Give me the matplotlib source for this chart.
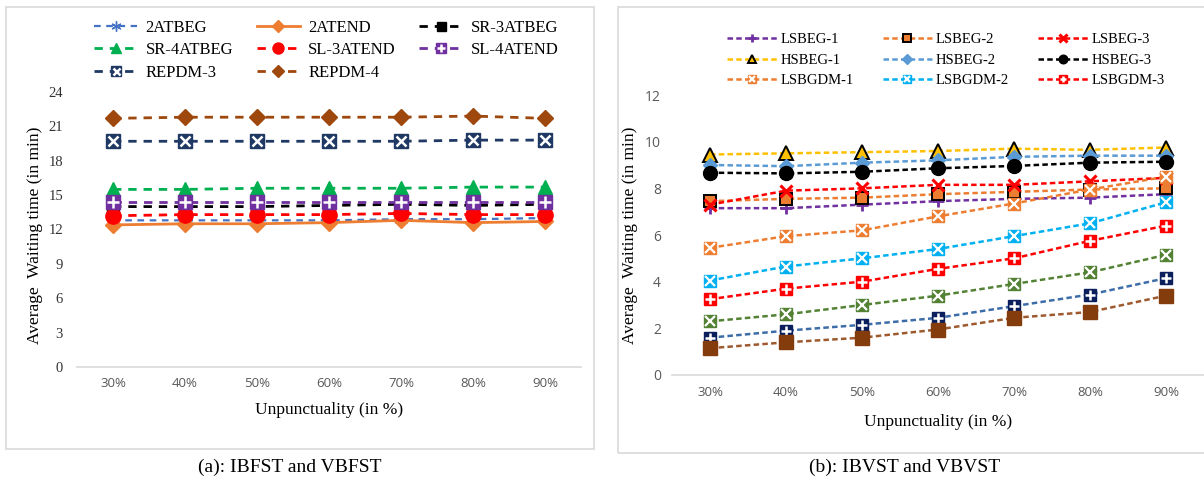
import numpy as np
import matplotlib
matplotlib.use("Agg")
import matplotlib.pyplot as plt
from matplotlib.patches import Rectangle

# ---- data ----
levels = ["30%", "40%", "50%", "60%", "70%", "80%", "90%"]

# (a) IBFST and VBFST
a_2atbeg = [12.8, 12.8, 12.8, 12.8, 12.9, 12.9, 13.0]
a_2atend = [12.4, 12.5, 12.5, 12.6, 12.8, 12.6, 12.7]
a_sr3atbeg = [14.0, 14.0, 14.0, 14.1, 14.2, 14.1, 14.2]
a_sr4atbeg = [15.5, 15.5, 15.6, 15.6, 15.6, 15.7, 15.7]
a_sl3atend = [13.2, 13.3, 13.3, 13.3, 13.4, 13.3, 13.3]
a_sl4atend = [14.4, 14.4, 14.4, 14.4, 14.4, 14.4, 14.4]
a_repdm3 = [19.7, 19.7, 19.7, 19.7, 19.7, 19.8, 19.8]
a_repdm4 = [21.7, 21.8, 21.8, 21.8, 21.8, 21.9, 21.7]

# (b) IBVST and VBVST
b_lsbeg1 = [7.15, 7.15, 7.3, 7.45, 7.55, 7.6, 7.75]
b_lsbeg2 = [7.45, 7.55, 7.6, 7.75, 7.85, 7.95, 8.0]
b_lsbeg3 = [7.3, 7.9, 8.0, 8.15, 8.15, 8.3, 8.45]
b_hsbeg1 = [9.45, 9.5, 9.55, 9.6, 9.7, 9.65, 9.75]
b_hsbeg2 = [9.0, 8.95, 9.1, 9.2, 9.35, 9.4, 9.4]
b_hsbeg3 = [8.67, 8.64, 8.71, 8.86, 8.96, 9.1, 9.14]
b_lsbgdm1 = [5.45, 5.95, 6.2, 6.8, 7.35, 7.95, 8.5]
b_lsbgdm2 = [4.05, 4.65, 5.0, 5.4, 5.95, 6.5, 7.4]
b_lsbgdm3 = [3.25, 3.7, 4.0, 4.55, 5.0, 5.75, 6.4]
# three more series drawn without a legend entry
b_extra1 = [2.3, 2.6, 3.0, 3.4, 3.9, 4.4, 5.15]
b_extra2 = [1.6, 1.9, 2.15, 2.45, 2.95, 3.45, 4.15]
b_extra3 = [1.15, 1.4, 1.6, 1.95, 2.45, 2.7, 3.4]

SERIF = "Liberation Serif"
SANS = "Open Sans"
AXCOL = "#d9d9d9"
TICKCOL = "#595959"


def draw(ax, x, y, color, marker, label, ls, dashes=None, lw=2.0, ms=9,
         mec=None, glyph=None, glyph_ms=None, glyph_mew=1.6, lcolor=None):
    kw = dict(color=lcolor or color, lw=lw, marker=marker, ms=ms,
              mfc=color, mec=mec or color, mew=1.0, label=label)
    if dashes is not None:
        kw["dashes"] = dashes
    else:
        kw["ls"] = ls
    line, = ax.plot(x, y, **kw)
    if glyph is None:
        return line
    over, = ax.plot(x, y, ls="none", marker=glyph, ms=glyph_ms or ms * 0.7,
                    mec="white", mew=glyph_mew)
    return (line, over)


def style_axes(ax, ymax, step, yfont, xpad, xlabelpad, ypad):
    ax.set_ylim(0, ymax)
    ax.set_yticks(np.arange(0, ymax + 0.1, step))
    ax.set_xlim(-0.5, len(levels) - 0.5)
    ax.set_xticks(range(len(levels)))
    ax.set_xticklabels(levels, fontfamily=SANS, fontsize=9.5, color=TICKCOL)
    for t in ax.get_yticklabels():
        t.set_fontfamily(yfont)
        t.set_fontsize(10.5 if yfont == SERIF else 10)
        t.set_color("#333333" if yfont == SERIF else TICKCOL)
    for s in ["top", "right", "left"]:
        ax.spines[s].set_visible(False)
    ax.spines["bottom"].set_color(AXCOL)
    ax.spines["bottom"].set_linewidth(1.2)
    ax.tick_params(length=0, pad=ypad)
    ax.tick_params(axis="x", pad=xpad)
    ax.set_ylabel("Average  Waiting time (in min)", fontfamily=SERIF, fontsize=12.5)
    ax.set_xlabel("Unpunctuality (in %)", fontfamily=SERIF, fontsize=12.5,
                  labelpad=xlabelpad)


W, H = 1204, 484
fig = plt.figure(figsize=(W / 100, H / 100), dpi=100)


def fx(px):
    return px / W


def fy(py):
    return 1 - py / H


# panel frames
fig.patches.append(Rectangle((fx(6), fy(449)), fx(588), 442 / H, transform=fig.transFigure,
                             fill=False, ec=AXCOL, lw=1.2))
fig.patches.append(Rectangle((fx(618), fy(453)), fx(600), 446 / H, transform=fig.transFigure,
                             fill=False, ec=AXCOL, lw=1.2))

x = np.arange(len(levels))

# ---- (a) ----
axa = fig.add_axes([fx(77), fy(367), fx(581 - 77), (367 - 92) / H])
dash_a = (3, 2.5)
ha = []
ha.append(draw(axa, x, a_2atbeg, "#4472C4", (6, 2, 0), "2ATBEG", "--", dash_a, ms=10, lw=1.6))
ha.append(draw(axa, x, a_2atend, "#ED7D31", "D", "2ATEND", "-", ms=8))
ha.append(draw(axa, x, a_sr3atbeg, "black", "s", "SR-3ATBEG", "--", dash_a, ms=9))
ha.append(draw(axa, x, a_sr4atbeg, "#00B050", "^", "SR-4ATBEG", "--", dash_a, ms=10))
ha.append(draw(axa, x, a_sl3atend, "#FF0000", "o", "SL-3ATEND", "--", dash_a, ms=11))
ha.append(draw(axa, x, a_sl4atend, "#7030A0", "s", "SL-4ATEND", "--", dash_a, ms=10,
               glyph="+", glyph_ms=8, glyph_mew=1.8))
ha.append(draw(axa, x, a_repdm3, "#1F3864", "s", "REPDM-3", "--", dash_a, ms=10,
               glyph="x", glyph_ms=7, glyph_mew=1.8))
ha.append(draw(axa, x, a_repdm4, "#9E480E", "D", "REPDM-4", "--", dash_a, ms=8))
style_axes(axa, 24, 3, SERIF, xpad=7, xlabelpad=9, ypad=10)
axa.yaxis.set_label_coords(-0.068, 0.48)

la = ["2ATBEG", "2ATEND", "SR-3ATBEG", "SR-4ATBEG", "SL-3ATEND", "SL-4ATEND",
      "REPDM-3", "REPDM-4"]
order = [0, 3, 6, 1, 4, 7, 2, 5]
fig.legend([ha[i] for i in order], [la[i] for i in order], ncol=3,
           loc="upper left", bbox_to_anchor=(fx(94), fy(20)), frameon=False,
           prop={"family": SERIF, "size": 12}, handlelength=2.6, handletextpad=0.5,
           columnspacing=1.4, labelspacing=0.38, borderpad=0, borderaxespad=0,
           markerscale=0.72)

# ---- (b) ----
axb = fig.add_axes([fx(672), fy(375), fx(1204 - 672), (375 - 95) / H])
dash_b = (2.2, 1.3)
hb = []
hb.append(draw(axb, x, b_lsbeg1, "#7030A0", "+", "LSBEG-1", "--", dash_b, lw=1.8, ms=9))
hb[-1].set_mew(2.0)
hb.append(draw(axb, x, b_lsbeg2, "#ED7D31", "s", "LSBEG-2", "--", dash_b, lw=1.8, ms=8.5,
               mec="black"))
hb[-1].set_mew(1.4)
hb.append(draw(axb, x, b_lsbeg3, "#FF0000", "x", "LSBEG-3", "--", dash_b, lw=1.8, ms=9))
hb[-1].set_mew(2.2)
hb.append(draw(axb, x, b_hsbeg1, "#FFC000", "^", "HSBEG-1", "--", dash_b, lw=1.8, ms=9.5,
               mec="black"))
hb[-1].set_mew(1.4)
hb.append(draw(axb, x, b_hsbeg2, "#5B9BD5", "D", "HSBEG-2", "--", dash_b, lw=1.8, ms=7.5))
hb.append(draw(axb, x, b_hsbeg3, "black", "o", "HSBEG-3", "--", dash_b, lw=1.8, ms=10))
hb.append(draw(axb, x, b_lsbgdm1, "#ED7D31", "s", "LSBGDM-1", "--", dash_b, lw=1.8, ms=9,
               glyph="x", glyph_ms=6.5, glyph_mew=1.6))
hb.append(draw(axb, x, b_lsbgdm2, "#00B0F0", "s", "LSBGDM-2", "--", dash_b, lw=1.8, ms=9,
               glyph="x", glyph_ms=6.5, glyph_mew=1.6))
hb.append(draw(axb, x, b_lsbgdm3, "#FF0000", "s", "LSBGDM-3", "--", dash_b, lw=1.8, ms=9,
               glyph="+", glyph_ms=7, glyph_mew=1.8))
draw(axb, x, b_extra1, "#548235", "s", "_nolegend_", "--", dash_b, lw=1.8, ms=9,
     glyph="x", glyph_ms=6.5, glyph_mew=1.6)
draw(axb, x, b_extra2, "#0B1F5C", "s", "_nolegend_", "--", dash_b, lw=1.8, ms=9,
     glyph="+", glyph_ms=7, glyph_mew=1.8, lcolor="#3D6DA8")
draw(axb, x, b_extra3, "#843C0C", "s", "_nolegend_", "--", dash_b, lw=1.8, ms=10,
     lcolor="#9E5A2E")
style_axes(axb, 12, 2, SANS, xpad=8, xlabelpad=11, ypad=8)
axb.yaxis.set_label_coords(-0.064, 0.5)

lb = ["LSBEG-1", "LSBEG-2", "LSBEG-3", "HSBEG-1", "HSBEG-2", "HSBEG-3",
      "LSBGDM-1", "LSBGDM-2", "LSBGDM-3"]
order = [0, 3, 6, 1, 4, 7, 2, 5, 8]
fig.legend([hb[i] for i in order], [lb[i] for i in order], ncol=3,
           loc="upper left", bbox_to_anchor=(fx(727), fy(33)), frameon=False,
           prop={"family": SERIF, "size": 10.5}, handlelength=3.4, handletextpad=0.25,
           columnspacing=2.0, labelspacing=0.5, borderpad=0, borderaxespad=0,
           markerscale=0.62)

# captions
fig.text(fx(290), fy(467), "(a): IBFST and VBFST", ha="center", va="center",
         fontfamily=SERIF, fontsize=14)
fig.text(fx(905), fy(467), "(b): IBVST and VBVST", ha="center", va="center",
         fontfamily=SERIF, fontsize=14)

fig.savefig("out.png", dpi=100)
